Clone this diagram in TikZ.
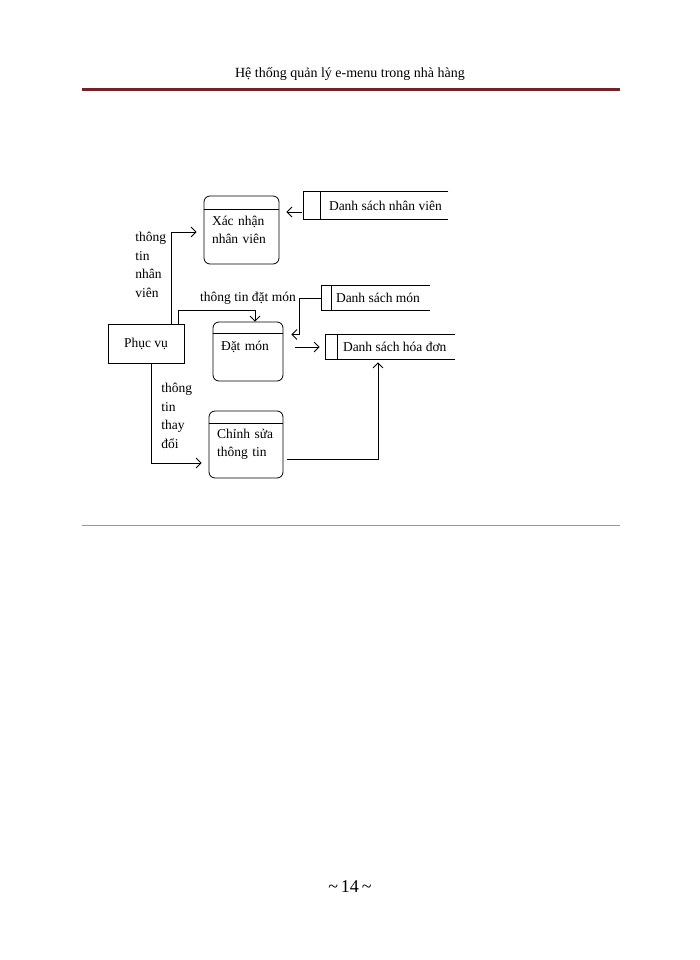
\documentclass[tikz,border=0pt]{standalone}
\usepackage{fontspec}
\setmainfont{Liberation Serif}
\usetikzlibrary{positioning, arrows.meta}

\definecolor{headred}{RGB}{115,35,40}
\definecolor{footblue}{RGB}{135,145,235}

\begin{document}
\begin{tikzpicture}[x=1pt, y=-1pt, line width=0.8pt,
    every node/.style={font=\fontsize{13.5}{18.5}\selectfont},
    process/.style={draw, rounded corners=6pt, inner xsep=8pt, inner ysep=0pt, align=left},
    storeframe/.style={inner sep=0pt},
    storetext/.style={inner sep=0pt, anchor=west},
    flow/.style={draw, -{Straight Barb[length=5pt, width=10pt]}},
    flowlabel/.style={inner sep=0pt, align=left}]
    \useasboundingbox (0,0) rectangle (700,960);

    % page header and footer
    \node[font=\fontsize{14}{16}\selectfont] (head) at (350,74) {Hệ thống quản lý e-menu trong nhà hàng};
    \draw[line width=3pt, headred] (82,89.5) -- (620,89.5);
    \draw[line width=1.2pt, footblue] (82,525.5) -- (620,525.5);
    \node[font=\fontsize{18}{20}\selectfont] (page) at (350,887) {\textasciitilde\,14\,\textasciitilde};

    % processes
    \node[process, text width=59pt, minimum height=68pt] (xnnv) at (241.5,230) {Xác nhận\\nhân viên};
    \node[process, text width=54pt, minimum height=59pt, text depth=12pt] (dm) at (248,351.5) {Đặt món};
    \node[process, text width=58pt, minimum height=67pt] (cs) at (246,444.5) {Chỉnh sửa\\thông tin};
    \foreach \p/\d in {xnnv/14, dm/12, cs/13}
        \draw ([yshift=-\d pt]\p.north west) -- ([yshift=-\d pt]\p.north east);

    \node[draw, minimum width=76pt, minimum height=39pt, inner sep=0pt] (pv) at (146,343.5) {Phục vụ};

    % data stores
    \foreach \s/\x/\y/\w/\h/\i/\t/\txt in {
            dsnv/376/205.5/144/27/17/25/Danh sách nhân viên,
            dsm/376/298/108/24/10/14/Danh sách món,
            dshd/390.5/347/129/24/12/17/Danh sách hóa đơn} {
        \node[storeframe, minimum width=\w pt, minimum height=\h pt] (\s) at (\x,\y) {};
        \node[storetext] (\s-t) at ([xshift=\t pt]\s.west) {\txt};
        \draw (\s.north east) -- (\s.north west) -- (\s.south west) -- (\s.south east)
              ([xshift=\i pt]\s.north west) -- ([xshift=\i pt]\s.south west);
    }

    % flows
    \draw[flow, shorten <=2pt, shorten >=7pt] ([yshift=-6.5pt]dsnv.west) -- ([yshift=18pt]xnnv.east);
    \draw[flow] ([xshift=-13pt]pv.north east) |- ([xshift=-7pt, yshift=-2pt]xnnv.west);
    \draw[flow] ([xshift=-6pt]pv.north east) |- ([xshift=7pt, yshift=11pt]dm.north) -- ([xshift=7pt]dm.north);
    \draw[flow] (dsm.west) -- ++(-22pt,0) |- ([xshift=8pt, yshift=17pt]dm.east);
    \draw[flow, shorten <=12pt, shorten >=6pt] ([yshift=4.5pt]dm.east) -- (dshd.west);
    \draw[flow] ([xshift=4pt, yshift=-14.5pt]cs.east) -| ([xshift=-12.5pt, yshift=-3pt]dshd.south);
    \draw[flow] ([xshift=5pt]pv.south) |- ([xshift=-7pt, yshift=-18.5pt]cs.west);

    % flow labels
    \node[flowlabel, anchor=west] (lbl-nv) at (135,265) {thông\\tin\\nhân\\viên};
    \node[flowlabel] (lbl-dm) at (248,298) {thông tin đặt món};
    \node[flowlabel, anchor=west] (lbl-td) at (161,416) {thông\\tin\\thay\\đổi};
\end{tikzpicture}
\end{document}
